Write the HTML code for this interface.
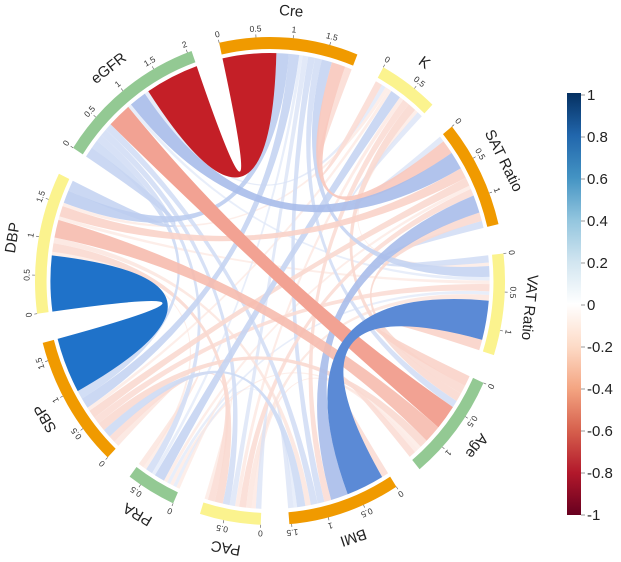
<!DOCTYPE html>
<html><head><meta charset="utf-8"><style>
html,body{margin:0;padding:0;background:#fff;}
svg{display:block;font-family:"Liberation Sans",sans-serif;}
</style></head><body>
<svg id="chart" width="621" height="562" viewBox="0 0 621 562" xmlns="http://www.w3.org/2000/svg">
<defs>
<linearGradient id="cbar" x1="0" y1="0" x2="0" y2="1">
<stop offset="0" stop-color="#053061"/><stop offset="0.1" stop-color="#2166ac"/><stop offset="0.2" stop-color="#4393c3"/><stop offset="0.3" stop-color="#92c5de"/><stop offset="0.4" stop-color="#d1e5f0"/><stop offset="0.5" stop-color="#ffffff"/><stop offset="0.6" stop-color="#fddbc7"/><stop offset="0.7" stop-color="#f4a582"/><stop offset="0.8" stop-color="#d6604d"/><stop offset="0.9" stop-color="#b2182b"/><stop offset="1" stop-color="#67001f"/>
</linearGradient>
</defs>
<g id="links"></g>
<g id="sectors"></g>
<g id="labels"></g>
<g id="legend">
<rect x="567" y="93" width="14" height="422" fill="url(#cbar)"/>
</g>
</svg>
<script>
const varNames = ["Cre","K","SAT Ratio","VAT Ratio","Age","BMI","PAC","PRA","SBP","DBP","eGFR"];
const sectorColors = ["#f09a00","#fbf38e","#f09a00","#fbf38e","#93c993","#f09a00","#fbf38e","#93c993","#f09a00","#fbf38e","#93c993"];
// correlation pairs [i, j, r]
const linkFrom = [0,0,0,0,0,0,0,0,0,0, 1,1,1,1,1,1,1,1,1, 2,2,2,2,2,2,2,2, 3,3,3,3,3,3,3, 4,4,4,4,4,4, 5,5,5,5,5, 6,6,6,6, 7,7,7, 8,8, 9];
const linkTo   = [1,2,3,4,5,6,7,8,9,10, 2,3,4,5,6,7,8,9,10, 3,4,5,6,7,8,9,10, 4,5,6,7,8,9,10, 5,6,7,8,9,10, 6,7,8,9,10, 7,8,9,10, 8,9,10, 9,10, 10];
const linkR    = [-0.1,-0.2,0.15,0.1,0.1,0.08,0.05,0.15,0.18,-0.78,
  0.08,-0.05,-0.12,-0.1,-0.06,0.15,-0.05,-0.05,0.06,
  0.1,-0.12,0.25,-0.1,-0.05,-0.12,-0.15,0.25,
  -0.15,0.55,-0.08,0.05,-0.1,-0.05,0.05,
  -0.1,-0.06,-0.05,-0.12,-0.25,-0.35,
  0.08,0.05,0.12,-0.08,0.1,
  -0.05,-0.1,-0.12,0.1,
  -0.08,-0.05,0.1,
  0.78,0.12,
  0.15];
const colorTicks = ["1","0.8","0.6","0.4","0.2","0","-0.2","-0.4","-0.6","-0.8","-1"];

const NS="http://www.w3.org/2000/svg";
const CX=270, CY=281, RY=244, SX=235/244, BAND=12, GAPIN=4;
const n=varNames.length, GAP=7, START=-12.5;
function mk(t){return document.createElementNS(NS,t);}
const totals=new Array(n).fill(0);
for(let k=0;k<linkR.length;k++){totals[linkFrom[k]]+=Math.abs(linkR[k]);totals[linkTo[k]]+=Math.abs(linkR[k]);}
const sumT=totals.reduce((a,b)=>a+b,0);
const deg=(360-n*GAP)/sumT;
const secStart=[];let a=START;
for(let i=0;i<n;i++){secStart.push(a);a+=totals[i]*deg+GAP;}
const pos={};
for(let i=0;i<n;i++){
  let cur=0;
  for(let s=1;s<n;s++){
    const j=(i-s+n)%n;
    for(let k=0;k<linkR.length;k++){
      if((linkFrom[k]===i&&linkTo[k]===j)||(linkFrom[k]===j&&linkTo[k]===i)){
        const w=Math.abs(linkR[k]);
        pos[i+"_"+k]=[secStart[i]+cur*deg, secStart[i]+(cur+w)*deg];
        cur+=w;
      }
    }
  }
}
function P(th,r){const t=th*Math.PI/180;return [CX+r*SX*Math.sin(t), CY-r*Math.cos(t)];}
function f(p){return p[0].toFixed(2)+","+p[1].toFixed(2);}
function lerp(c1,c2,t){const a=[1,3,5].map(i=>parseInt(c1.substr(i,2),16)),b=[1,3,5].map(i=>parseInt(c2.substr(i,2),16));return "rgb("+a.map((v,i)=>Math.round(v+(b[i]-v)*t)).join(",")+")";}
const negStops=[[0,"#fdf2ee"],[0.2,"#f8c8bc"],[0.4,"#f09585"],[0.6,"#e0584c"],[0.75,"#cc2229"],[1,"#8c0a1c"]];
const posStops=[[0,"#eef2fb"],[0.15,"#c5d4f2"],[0.3,"#99b2e6"],[0.55,"#5b8ad6"],[0.8,"#1a70c8"],[1,"#0b3b82"]];
function col(r){const st=r<0?negStops:posStops;const v=Math.min(1,Math.abs(r));for(let i=1;i<st.length;i++){if(v<=st[i][0]){return lerp(st[i-1][1],st[i][1],(v-st[i-1][0])/(st[i][0]-st[i-1][0]));}}return st[st.length-1][1];}
const RC=RY-BAND-GAPIN;
const order=linkR.map((v,k)=>k).sort((x,y)=>Math.abs(linkR[x])-Math.abs(linkR[y]));
const gl=document.getElementById("links");
for(const k of order){
  const i=linkFrom[k],j=linkTo[k];
  const [a1,a2]=pos[i+"_"+k],[b1,b2]=pos[j+"_"+k];
  const rx=(RC*SX).toFixed(2), ry=RC.toFixed(2);
  const la=(a2-a1)>180?1:0, lb=(b2-b1)>180?1:0;
  const d="M"+f(P(a1,RC))+" A"+rx+","+ry+" 0 "+la+" 1 "+f(P(a2,RC))+" Q"+CX+","+CY+" "+f(P(b1,RC))+" A"+rx+","+ry+" 0 "+lb+" 1 "+f(P(b2,RC))+" Q"+CX+","+CY+" "+f(P(a1,RC))+"Z";
  const p=mk("path");p.setAttribute("d",d);p.setAttribute("fill",col(linkR[k]));
  p.setAttribute("fill-opacity",Math.abs(linkR[k])<0.1?0.75:(Math.abs(linkR[k])<0.3?0.9:1));
  
  
  gl.appendChild(p);
}
const gs=document.getElementById("sectors"), glab=document.getElementById("labels");
for(let i=0;i<n;i++){
  const s=secStart[i], e=s+totals[i]*deg, ro=RY, ri=RY-BAND;
  const la=(e-s)>180?1:0;
  const d="M"+f(P(s,ro))+" A"+(ro*SX)+","+ro+" 0 "+la+" 1 "+f(P(e,ro))+" L"+f(P(e,ri))+" A"+(ri*SX)+","+ri+" 0 "+la+" 0 "+f(P(s,ri))+"Z";
  const p=mk("path");p.setAttribute("d",d);p.setAttribute("fill",sectorColors[i]);
  
  
  gs.appendChild(p);
  for(let v=0;v<=totals[i]+1e-6;v+=0.5){
    const th=s+v*deg;
    const l=mk("line");const q1=P(th,ro),q2=P(th,ro+3);
    l.setAttribute("x1",q1[0]);l.setAttribute("y1",q1[1]);l.setAttribute("x2",q2[0]);l.setAttribute("y2",q2[1]);
    l.setAttribute("stroke","#555");l.setAttribute("stroke-width","0.6");
    
    
    gs.appendChild(l);
    const tp=P(th,ro+8);const t=mk("text");
    t.setAttribute("x",tp[0]);t.setAttribute("y",tp[1]);t.setAttribute("font-size","8.5");t.setAttribute("fill","#333");
    t.setAttribute("text-anchor","middle");t.setAttribute("dominant-baseline","middle");
    t.setAttribute("transform","rotate("+th+" "+tp[0]+" "+tp[1]+")");
    t.textContent=(Math.round(v*10)/10).toString();
    
    
    gs.appendChild(t);
  }
  const mid=(s+e)/2, lp=P(mid,ro+26);
  const t=mk("text");t.setAttribute("x",lp[0]);t.setAttribute("y",lp[1]);t.setAttribute("font-size","15");t.setAttribute("fill","#222");
  t.setAttribute("text-anchor","middle");t.setAttribute("dominant-baseline","middle");
  t.setAttribute("transform","rotate("+mid+" "+lp[0]+" "+lp[1]+")");
  t.textContent=varNames[i];
  
  
  glab.appendChild(t);
}
const lg=document.getElementById("legend");
for(let i=0;i<colorTicks.length;i++){
  const y=95+(1-parseFloat(colorTicks[i]))*210;
  const l=mk("line");l.setAttribute("x1",581);l.setAttribute("x2",585);l.setAttribute("y1",y);l.setAttribute("y2",y);l.setAttribute("stroke","#999");
  
  
  lg.appendChild(l);
  const t=mk("text");t.setAttribute("x",587);t.setAttribute("y",y+5);t.setAttribute("font-size","15");t.setAttribute("fill","#222");
  t.textContent=colorTicks[i];
  
  
  lg.appendChild(t);
}
</script>
</body></html>
